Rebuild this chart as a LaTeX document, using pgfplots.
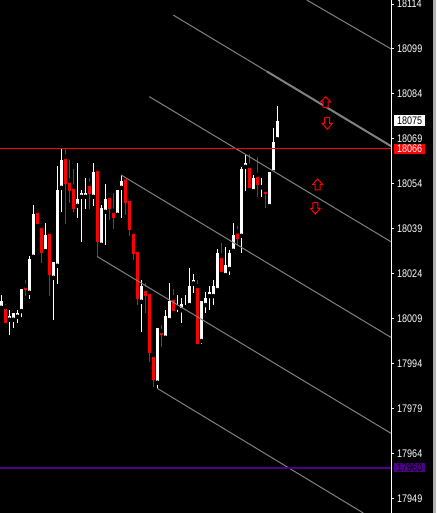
\documentclass[border=0pt]{standalone}
\usepackage{pgfplots}
\pgfplotsset{compat=1.18}
\usepackage{pgfplotstable}
\usepackage{fontspec}
\setmainfont[FakeStretch=0.82]{Liberation Sans}
\definecolor{chgray}{RGB}{128,128,128}
\definecolor{chpurple}{RGB}{75,0,135}
\definecolor{framegray}{RGB}{176,176,176}

\pgfplotstableread{
n o h l c
1 18012.7 18016.9 18012.5 18014.9
3 18008.7 18011.9 18003.6 18010.0
4 18008.7 18010.9 18005.8 18010.9
5 18009.7 18011.9 18007.7 18010.9
6 18011.6 18018.9 18009.7 18018.9
8 18017.7 18030.0 18015.7 18028.9
9 18029.7 18047.0 18029.7 18044.0
12 18031.6 18041.0 18030.8 18037.0
14 18022.7 18028.0 18008.6 18028.0
15 18026.7 18060.0 18020.7 18052.0
16 18052.7 18066.0 18044.7 18062.0
20 18046.7 18061.0 18042.7 18049.0
21 18049.7 18052.0 18034.7 18050.9
22 18049.7 18056.0 18045.7 18050.9
24 18049.7 18061.0 18046.7 18058.0
26 18033.7 18047.0 18033.7 18046.0
27 18044.7 18054.0 18033.7 18049.0
30 18043.7 18052.0 18043.7 18052.0
31 18052.7 18057.0 18042.7 18055.0
36 18014.7 18021.9 18004.7 18019.9
40 17987.7 18006.0 17985.8 18006.0
42 18002.7 18011.9 18002.7 18009.9
43 18008.6 18020.8 18008.6 18015.0
45 18012.8 18017.0 18011.4 18013.1
46 18011.9 18015.8 18007.7 18013.8
47 18012.8 18017.0 18011.9 18013.1
48 18013.6 18026.1 18013.6 18019.9
49 18020.8 18023.9 18017.5 18021.9
51 18001.6 18015.0 18000.7 18015.0
52 18013.6 18018.1 18010.8 18016.0
53 18016.6 18019.9 18011.9 18017.9
54 18016.6 18021.9 18013.6 18019.9
55 18018.6 18032.2 18018.6 18031.1
57 18023.6 18032.8 18023.6 18026.9
58 18025.6 18032.0 18023.6 18030.8
59 18031.7 18040.8 18031.7 18037.0
61 18036.7 18059.5 18030.9 18059.0
62 18059.7 18063.6 18051.6 18060.9
64 18051.6 18057.0 18051.6 18056.1
66 18052.9 18055.9 18049.7 18053.2
68 18046.6 18057.9 18046.6 18057.9
69 18057.9 18072.8 18057.9 18068.1
70 18068.9 18080.0 18068.9 18075.0
}\whitecandles

\pgfplotstableread{
n o h l c
2 18012.9 18013.9 18007.6 18007.6
7 18020.0 18021.9 18016.7 18018.6
10 18045.0 18045.0 18040.7 18040.7
11 18040.0 18041.0 18027.7 18030.8
13 18038.0 18038.0 18016.7 18023.6
17 18063.0 18066.0 18040.7 18053.9
18 18055.0 18062.0 18047.7 18051.6
19 18053.0 18059.0 18044.7 18045.6
23 18054.0 18056.0 18045.7 18050.7
25 18059.0 18060.0 18030.0 18034.7
28 18050.0 18051.0 18042.0 18045.7
29 18045.0 18051.0 18039.0 18042.7
32 18056.2 18057.0 18043.7 18047.7
33 18049.0 18049.0 18036.7 18038.7
34 18038.0 18038.0 18028.7 18030.7
35 18032.0 18033.0 18013.7 18015.7
37 18018.9 18020.8 18010.8 18016.7
38 18017.9 18017.9 17994.7 17997.7
39 17996.9 17997.5 17986.4 17988.6
41 18004.9 18006.9 17999.7 18003.6
44 18016.0 18018.9 18011.6 18011.6
50 18019.9 18021.9 18000.7 18000.7
56 18030.0 18034.2 18024.7 18024.7
60 18038.1 18040.0 18033.6 18035.6
63 18060.0 18063.9 18052.7 18052.7
65 18057.0 18063.1 18049.7 18053.6
67 18052.0 18052.0 18045.9 18050.6
}\redcandles

\begin{document}
\begin{tikzpicture}
\fill[black] (0,0) rectangle (436pt,513pt);
\fill[framegray] (433pt,0) rectangle (436pt,513pt);
\begin{axis}[
  at={(0,0)}, anchor=south west,
  width=391pt, height=513pt, scale only axis,
  xmin=0.6675, xmax=98.4175,
  ymin=17944.23, ymax=18115.34,
  axis x line=none,
  axis y line*=right,
  y axis line style={white, line width=1pt},
  ytick={17949,17964,17979,17994,18009,18024,18039,18054,18069,18084,18099,18114},
  scaled y ticks=false,
  tick align=outside,
  major tick length=3pt,
  ytick style={white, line width=1pt},
  yticklabel style={font=\fontsize{11}{13}\selectfont, text=white, anchor=west, inner sep=0pt, xshift=3pt},
  /pgf/number format/.cd, set thousands separator={}, assume math mode=true, fixed, precision=0,
  /pgfplots/.cd,
  clip mode=individual,
]
% wicks
\addplot[only marks, mark=none, forget plot,
  error bars/.cd, y dir=both, y explicit, error mark=none,
  error bar style={white, line width=1pt}]
  table[x=n, y=o, y error plus expr=\thisrow{h}-\thisrow{o}, y error minus expr=\thisrow{o}-\thisrow{l}] {\whitecandles};
\addplot[only marks, mark=none, forget plot,
  error bars/.cd, y dir=both, y explicit, error mark=none,
  error bar style={red, line width=1pt}]
  table[x=n, y=o, y error plus expr=\thisrow{h}-\thisrow{o}, y error minus expr=\thisrow{o}-\thisrow{l}] {\redcandles};
% bodies
\addplot[only marks, mark=none, forget plot,
  error bars/.cd, y dir=both, y explicit, error mark=none,
  error bar style={white, line width=3pt, line cap=butt}]
  table[x=n, y=o, y error plus expr=\thisrow{c}-\thisrow{o}, y error minus expr=0] {\whitecandles};
\addplot[only marks, mark=none, forget plot,
  error bars/.cd, y dir=both, y explicit, error mark=none,
  error bar style={red, line width=3pt, line cap=butt}]
  table[x=n, y=o, y error plus expr=0, y error minus expr=\thisrow{o}-\thisrow{c}] {\redcandles};
% channel lines
\addplot[chgray, line width=1pt, mark=none] coordinates {(77.34,18115.34) (98.59,18098.9)};
\addplot[chgray, line width=1pt, mark=none] coordinates {(43.99,18110.3) (98.42,18066.6)};
\addplot[chgray, line width=2pt, mark=none] coordinates {(67.4,18091.5) (98.42,18066.6)};
\addplot[chgray, line width=1pt, mark=none] coordinates {(37.99,18083.1) (98.42,18034.7)};
\addplot[chgray, line width=1pt, mark=none] coordinates {(30.92,18057.0) (98.42,18002.8)};
\addplot[chgray, line width=1pt, mark=none] coordinates {(24.92,18029.8) (98.42,17970.8)};
\addplot[chgray, line width=1pt, mark=none] coordinates {(39.99,17985.8) (91.49,17944.23)};
% horizontal lines
\addplot[red, line width=1pt, mark=none] coordinates {(0.6675,18065.7) (98.4175,18065.7)};
\addplot[chpurple, line width=2pt, mark=none] coordinates {(0.6675,17959.4) (98.4175,17959.4)};
% arrows
\addplot[red, line width=1pt, mark=none, line join=miter, fill=black] coordinates {(82.09,18083.09) (83.34,18081.32) (82.72,18081.32) (82.72,18079.55) (81.47,18079.55) (81.47,18081.32) (80.84,18081.32) (82.09,18083.09)};
\addplot[red, line width=1pt, mark=none, line join=miter, fill=black] coordinates {(81.84,18076.08) (83.09,18076.08) (83.09,18074.15) (83.72,18074.15) (82.47,18072.22) (81.22,18074.15) (81.84,18074.15) (81.84,18076.08)};
\addplot[red, line width=1pt, mark=none, line join=miter, fill=black] coordinates {(80.09,18055.64) (81.34,18053.80) (80.72,18053.80) (80.72,18051.97) (79.47,18051.97) (79.47,18053.80) (78.84,18053.80) (80.09,18055.64)};
\addplot[red, line width=1pt, mark=none, line join=miter, fill=black] coordinates {(78.88,18047.73) (80.13,18047.73) (80.13,18045.86) (80.76,18045.86) (79.51,18043.96) (78.26,18045.86) (78.88,18045.86) (78.88,18047.73)};
% price labels
\node[fill=white, text=black, anchor=west, inner sep=0pt, minimum width=30.7pt, minimum height=10.5pt, font=\fontsize{11}{13}\selectfont, xshift=3pt] at (axis cs:98.4175,18075.1) {18075};
\node[fill=red, text=white, anchor=west, inner sep=0pt, minimum width=30.7pt, minimum height=10.5pt, font=\fontsize{11}{13}\selectfont, xshift=3pt] at (axis cs:98.4175,18065.7) {18066};
\node[fill=chpurple, text=black, anchor=west, inner sep=0pt, minimum width=30.7pt, minimum height=9pt, font=\fontsize{11}{13}\selectfont, xshift=3pt] at (axis cs:98.4175,17959.4) {17960};
\end{axis}
\pgfresetboundingbox
\useasboundingbox (0,0) rectangle (436pt,513pt);
\end{tikzpicture}
\end{document}
